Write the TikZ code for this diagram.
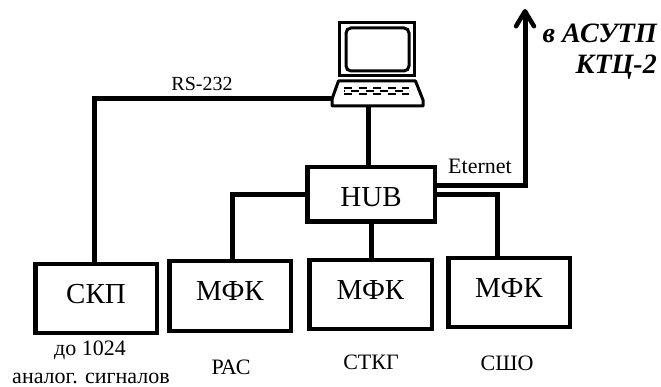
\documentclass[tikz,border=0pt]{standalone}
\usepackage{fontspec}
\setmainfont{Liberation Serif}
\usetikzlibrary{arrows.meta}
\tikzset{
    unitbox/.style={draw,line width=4.5pt,minimum width=121.5pt,minimum height=69.5pt,inner sep=0pt,
        font=\fontsize{29}{29}\selectfont,text height=19pt,text depth=9pt},
    wire/.style={line width=5pt},
    caption/.style={inner sep=0pt,font=\fontsize{22}{22}\selectfont},
    uplink/.style={inner sep=0pt,anchor=east,font=\fontsize{28}{28}\selectfont\bfseries\itshape},
}
\begin{document}
\begin{tikzpicture}[x=1pt,y=-1pt]
            \useasboundingbox (0,0) rectangle (661,387);
            % laptop
            \node[draw,line width=3pt,minimum width=75pt,minimum height=53pt,inner sep=0pt] (screen) at (377,49) {};
            \draw[line width=3pt,rounded corners=5pt] (346,28) rectangle (409,71);
            \draw[line width=3pt,line join=round] (338.5,81) -- (415.5,81) -- (423,100) -- (423,106) -- (332,106) -- (332,99) -- cycle;
            \draw[line width=2.5pt,dash pattern=on 8pt off 6.5pt] (344,88) -- (409,88);
            \draw[line width=2.5pt,dash pattern=on 8pt off 6.5pt,dash phase=-7pt] (344,91) -- (409,91);
            \draw[line width=2.5pt,dash pattern=on 8pt off 6.5pt] (344,94) -- (409,94);
            \coordinate (kbdleft) at (332,99);
            \coordinate (kbdbottom) at (368,107);
            % boxes
            \node[unitbox,minimum height=68.5pt] (skp) at (96,298.5) {СКП};
            \node[unitbox] (mfka) at (230,296) {МФК};
            \node[unitbox,minimum width=122.5pt,minimum height=68.5pt] (mfkb) at (370.5,294.5) {МФК};
            \node[unitbox,minimum height=68.5pt] (mfkc) at (509,292.5) {МФК};
            \node[unitbox,minimum width=127.5pt,minimum height=54.5pt,text height=25pt,text depth=0pt] (hub) at (371,194.5) {HUB};
            \coordinate (uplink) at (525,9);
            % connectors
            \draw[wire] ([xshift=-2pt]skp.north) |- (kbdleft);
            \draw[wire] (kbdbottom) -- (kbdbottom |- hub.north);
            \draw[wire] (hub.west) -| ([xshift=2pt]mfka.north);
            \draw[wire] (hub.south) -- (mfkb.north -| hub.south);
            \draw[wire] (hub.east) -| ([xshift=-12pt]mfkc.north);
            \draw[wire,-{Straight Barb[length=15pt,width=18pt,line width=4.5pt,round]}] ([yshift=8.5pt]hub.east) -| (uplink);
            % labels
            \node[caption,font=\fontsize{20}{20}\selectfont] (rs) at (202,84) {RS-232};
            \node[caption] (eternet) at (480,166) {Eternet};
            \node[caption] (skpa) at (90,350) {до 1024};
            \node[caption] (skpb) at (91,378) {аналог. сигналов};
            \node[caption] (pac) at (231,367) {РАС};
            \node[caption] (stkg) at (371,362) {СТКГ};
            \node[caption] (sso) at (507,363) {СШО};
            \node[uplink] (asutp) at (657,33) {в АСУТП};
            \node[uplink] (ktc) at (657,67) {КТЦ-2};
        \end{tikzpicture}
\end{document}
